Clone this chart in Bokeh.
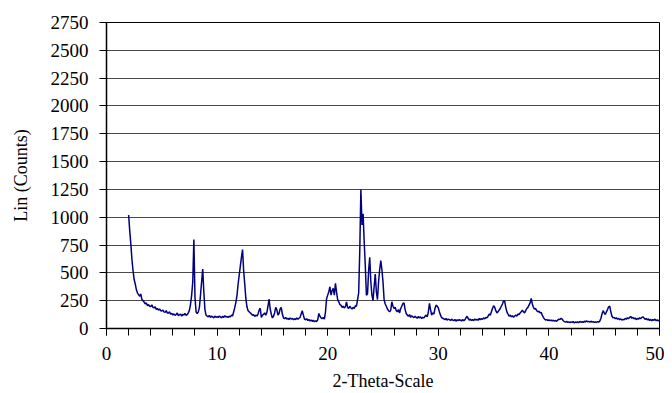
from bokeh.plotting import figure
from bokeh.models import Range1d, FixedTicker, ColumnDataSource
from bokeh.embed import file_html
from bokeh.resources import INLINE

# Scan: 2-theta from 2.0 to 50.0 deg, step 0.1 deg
scan_start = 2.0
scan_step = 0.1

counts_2_9 = [
    1020, 880, 760, 620, 520, 440, 400, 350, 320, 305,   # 2
    290, 310, 262, 250, 238, 222, 230, 205, 215, 200,    # 3
    198, 212, 190, 185, 196, 172, 180, 165, 175, 160,    # 4
    158, 166, 150, 145, 160, 140, 138, 150, 128, 135,    # 5
    122, 132, 118, 126, 140, 115, 124, 130, 112, 128,    # 6
    120, 135, 118, 125, 140, 165, 220, 300, 420, 800,    # 7
    280, 150, 135, 150, 190, 300, 420, 535, 330, 170,    # 8
    120, 112, 105, 118, 100, 110, 104, 96, 112, 100,     # 9
]
counts_10_19 = [
    108, 98, 112, 104, 95, 110, 100, 115, 102, 108,      # 10
    98, 110, 104, 120, 112, 150, 190, 235, 300, 400,     # 11
    480, 560, 640, 710, 520, 400, 270, 195, 160, 150,    # 12
    140, 132, 118, 125, 108, 120, 112, 130, 165, 182,    # 13
    100, 118, 128, 140, 120, 145, 200, 265, 175, 128,    # 14
    95, 110, 140, 190, 170, 120, 135, 175, 190, 130,     # 15
    96, 88, 100, 85, 92, 80, 94, 86, 90, 78,             # 16
    88, 80, 95, 84, 92, 100, 130, 160, 120, 85,          # 17
    78, 88, 72, 80, 68, 76, 64, 74, 60, 70,              # 18
    62, 80, 135, 110, 95, 88, 100, 85, 150, 270,         # 19
]
counts_20_29 = [
    300, 330, 375, 300, 340, 360, 300, 405, 330, 260,    # 20
    240, 215, 210, 190, 200, 185, 195, 240, 190, 180,    # 21
    200, 185, 175, 190, 180, 205, 200, 260, 320, 700,    # 22
    1250, 930, 1030, 780, 560, 300, 310, 520, 640, 420,  # 23
    300, 250, 380, 490, 330, 260, 420, 530, 610, 530,    # 24
    420, 260, 220, 200, 175, 160, 150, 165, 240, 200,    # 25
    180, 190, 160, 150, 170, 140, 180, 200, 225, 230,    # 26
    170, 135, 120, 110, 125, 100, 115, 105, 98, 110,     # 27
    100, 92, 108, 96, 104, 90, 100, 95, 110, 120,        # 28
    105, 150, 225, 170, 120, 140, 130, 180, 210, 200,    # 29
]
counts_30_39 = [
    185, 150, 120, 98, 92, 86, 80, 90, 76, 84,           # 30
    80, 72, 84, 76, 70, 82, 66, 78, 72, 80,              # 31
    74, 68, 80, 70, 78, 95, 110, 92, 76, 84,             # 32
    72, 80, 70, 86, 76, 82, 74, 90, 80, 88,              # 33
    82, 96, 86, 100, 95, 110, 130, 120, 150, 180,        # 34
    205, 190, 160, 140, 150, 165, 180, 200, 220, 250,    # 35
    245, 190, 150, 130, 110, 120, 105, 115, 100, 112,    # 36
    120, 110, 130, 125, 140, 150, 165, 150, 140, 160,    # 37
    180, 190, 210, 230, 270, 220, 190, 175, 180, 160,    # 38
    150, 155, 140, 145, 120, 100, 85, 76, 80, 72,        # 39
]
counts_40_50 = [
    78, 70, 76, 68, 74, 66, 72, 64, 76, 84,              # 40
    80, 92, 85, 70, 62, 58, 64, 55, 60, 52,              # 41
    60, 55, 62, 50, 58, 54, 60, 52, 64, 56,              # 42
    62, 55, 66, 58, 70, 60, 64, 56, 66, 58,              # 43
    62, 55, 60, 54, 62, 58, 66, 90, 130, 160,            # 44
    140, 125, 150, 170, 195, 200, 150, 110, 95, 100,     # 45
    88, 96, 84, 90, 80, 86, 76, 82, 78, 90,              # 46
    84, 96, 88, 100, 108, 92, 100, 86, 94, 80,           # 47
    90, 84, 96, 88, 100, 105, 95, 82, 90, 78,            # 48
    86, 72, 82, 70, 80, 74, 84, 70, 78, 68,              # 49
    75,                                                  # 50
]

counts = counts_2_9 + counts_10_19 + counts_20_29 + counts_30_39 + counts_40_50
two_theta = [round(scan_start + scan_step * i, 2) for i in range(len(counts))]

x_ticks = [0, 10, 20, 30, 40, 50]
y_ticks = [0, 250, 500, 750, 1000, 1250, 1500, 1750, 2000, 2250, 2500, 2750]

FONT = "Liberation Serif"

p = figure(width=664, height=393, output_backend="svg", toolbar_location=None,
           x_range=Range1d(0, 50), y_range=Range1d(0, 2750),
           min_border_left=106, min_border_right=5, min_border_top=22, min_border_bottom=64)
p.background_fill_color = "white"
p.border_fill_color = "white"
p.outline_line_color = "black"
p.outline_line_width = 1

src = ColumnDataSource(dict(x=two_theta, y=counts))
p.line("x", "y", source=src, line_color="#000080", line_width=1.5)

# axes
for ax in (p.xaxis[0], p.yaxis[0]):
    ax.axis_line_color = "black"
    ax.axis_line_width = 1.5
    ax.major_tick_line_color = "black"
    ax.major_tick_in = 0
    ax.major_tick_out = 7
    ax.major_label_text_font = FONT
    ax.major_label_text_font_size = "19px"
    ax.major_label_text_color = "black"
    ax.axis_label_text_font = FONT
    ax.axis_label_text_font_size = "18px"
    ax.axis_label_text_font_style = "normal"
    ax.axis_label_text_color = "black"

p.xaxis.ticker = FixedTicker(ticks=x_ticks, minor_ticks=list(range(0, 51, 2)))
p.xaxis.minor_tick_line_color = "black"
p.xaxis.minor_tick_in = 0
p.xaxis.minor_tick_out = 7
p.xaxis.major_label_standoff = 11
p.xaxis.axis_label = "2-Theta-Scale"
p.xaxis.axis_label_standoff = 8

p.yaxis.ticker = FixedTicker(ticks=y_ticks)
p.yaxis.minor_tick_line_color = None
p.yaxis.major_label_standoff = 11
p.yaxis.axis_label = "Lin (Counts)"
p.yaxis.axis_label_standoff = 17

p.xgrid.grid_line_color = None
p.ygrid.grid_line_color = "#4a4a4a"
p.ygrid.grid_line_width = 1

open("out.html", "w").write(file_html(p, INLINE))
